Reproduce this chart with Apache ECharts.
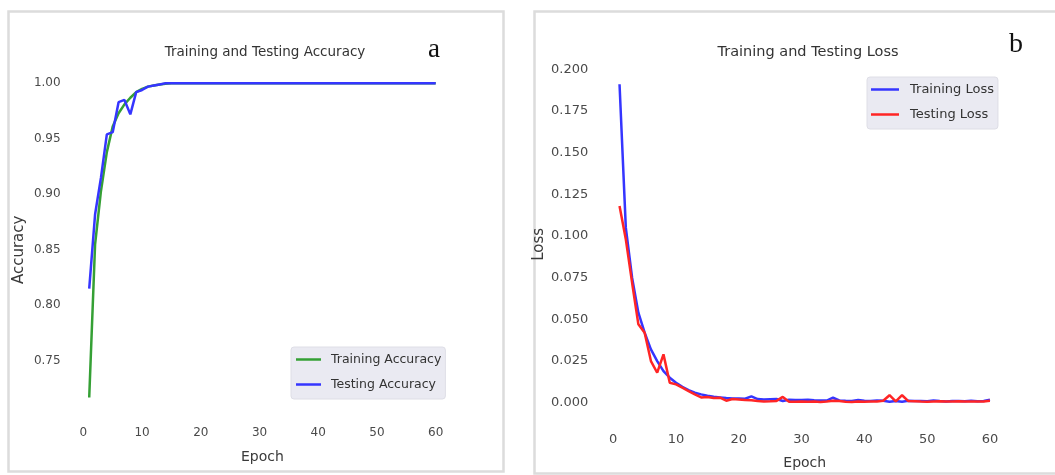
<!DOCTYPE html>
<html><head><meta charset="utf-8">
<script src="https://cdn.jsdelivr.net/npm/echarts@6/dist/echarts.min.js"></script>
<style>html,body{margin:0;padding:0;background:#fff}#c{width:1055px;height:475px}</style>
</head><body><div id="c"></div>
<script>
const epochs = [1,2,3,4,5,6,7,8,9,10,11,12,13,14,15,16,17,18,19,20,
  21,22,23,24,25,26,27,28,29,30,31,32,33,34,35,36,37,38,39,40,
  41,42,43,44,45,46,47,48,49,50,51,52,53,54,55,56,57,58,59,60];
const trainAcc = [0.717,0.855,0.903,0.938,0.961,0.973,0.981,0.987,0.992,0.995,
  0.997,0.998,0.999,0.9995,1.0,1.0,1.0,1.0,1.0,1.0,
  1.0,1.0,1.0,1.0,1.0,1.0,1.0,1.0,1.0,1.0,
  1.0,1.0,1.0,1.0,1.0,1.0,1.0,1.0,1.0,1.0,
  1.0,1.0,1.0,1.0,1.0,1.0,1.0,1.0,1.0,1.0,
  1.0,1.0,1.0,1.0,1.0,1.0,1.0,1.0,1.0,1.0];
const testAcc = [0.815,0.882,0.915,0.954,0.956,0.983,0.985,0.972,0.992,0.994,
  0.997,0.998,0.999,1.0,1.0,1.0,1.0,1.0,1.0,1.0,
  1.0,1.0,1.0,1.0,1.0,1.0,1.0,1.0,1.0,1.0,
  1.0,1.0,1.0,1.0,1.0,1.0,1.0,1.0,1.0,1.0,
  1.0,1.0,1.0,1.0,1.0,1.0,1.0,1.0,1.0,1.0,
  1.0,1.0,1.0,1.0,1.0,1.0,1.0,1.0,1.0,1.0];
const trainLoss = [0.191,0.105,0.075,0.054,0.042,0.032,0.025,0.019,0.015,0.012,
  0.0095,0.0075,0.006,0.005,0.0042,0.0036,0.0032,0.0028,0.0026,0.0025,
  0.0024,0.0038,0.0022,0.0020,0.0021,0.0022,0.0010,0.0018,0.0017,0.0016,
  0.0018,0.0015,0.0014,0.0013,0.0030,0.0014,0.0012,0.0011,0.0016,0.0012,
  0.0011,0.0013,0.0012,0.0006,0.0011,0.0006,0.0012,0.0010,0.0011,0.0009,
  0.0013,0.0010,0.0008,0.0011,0.0010,0.0009,0.0012,0.0009,0.0010,0.0018];
const testLoss = [0.118,0.098,0.072,0.047,0.042,0.025,0.018,0.029,0.012,0.011,
  0.009,0.007,0.005,0.0032,0.0034,0.0028,0.0030,0.0012,0.0022,0.0020,
  0.0017,0.0015,0.0010,0.0008,0.0009,0.0011,0.0035,0.0006,0.0006,0.0007,
  0.0006,0.0007,0.0005,0.0008,0.0012,0.0010,0.0006,0.0005,0.0007,0.0006,
  0.0008,0.0007,0.0012,0.0045,0.0008,0.0045,0.0010,0.0009,0.0007,0.0006,
  0.0008,0.0009,0.0007,0.0008,0.0009,0.0007,0.0008,0.0007,0.0008,0.0012];
const xTicks = [0,10,20,30,40,50,60];
const accTicks = [0.75,0.80,0.85,0.90,0.95,1.00];
const lossTicks = [0.000,0.025,0.050,0.075,0.100,0.125,0.150,0.175,0.200];

const FONT = 'DejaVu Sans';
const has = (arr, v) => arr.some(t => Math.abs(t - v) < 1e-7);
const pairs = ys => epochs.map((e, i) => [e, ys[i]]);

const chart = echarts.init(document.getElementById('c'), null, {renderer: 'canvas'});

function xAxisOf(gi, gap, fs) {
  return {
    type: 'value', gridIndex: gi, min: -2, max: 63, interval: 1,
    axisLine: {show: false}, axisTick: {show: false}, splitLine: {show: false},
    axisLabel: {interval: 0, margin: gi === 0 ? 11 : 14, color: '#4a4a4a', fontFamily: FONT, fontSize: fs,
      formatter: v => has(xTicks, v) ? String(Math.round(v)) : ''},
    name: 'Epoch', nameLocation: 'middle', nameGap: gap,
    nameTextStyle: {color: '#3a3a3a', fontFamily: FONT, fontSize: 14}
  };
}

const option = {
  animation: false,
  backgroundColor: '#fff',
  graphic: [
    {type: 'rect', shape: {x: 8.5, y: 11.5, width: 495, height: 460}, style: {fill: 'none', stroke: '#dcdcdc', lineWidth: 2.5}, silent: true},
    {type: 'rect', shape: {x: 534.5, y: 11.5, width: 540, height: 462}, style: {fill: 'none', stroke: '#dcdcdc', lineWidth: 2.5}, silent: true},
    {type: 'text', x: 434, y: 50, style: {text: 'a', font: '27px "Liberation Serif"', fill: '#111', align: 'center', verticalAlign: 'middle'}},
    {type: 'text', x: 1016, y: 45, style: {text: 'b', font: '28px "Liberation Serif"', fill: '#111', align: 'center', verticalAlign: 'middle'}}
  ],
  title: [
    {text: 'Training and Testing Accuracy', left: 265, top: 45, textAlign: 'center', padding: 0,
      textStyle: {fontFamily: FONT, fontSize: 13.5, fontWeight: 'normal', color: '#333'}},
    {text: 'Training and Testing Loss', left: 808, top: 45, textAlign: 'center', padding: 0,
      textStyle: {fontFamily: FONT, fontSize: 14.5, fontWeight: 'normal', color: '#333'}}
  ],
  legend: [
    {data: ['Training Accuracy', 'Testing Accuracy'], orient: 'vertical', left: 291, top: 347,
      backgroundColor: '#eaeaf2', borderColor: '#dedee6', borderWidth: 1, borderRadius: 3,
      padding: [6, 4, 8, 5], itemGap: 12, itemWidth: 25, itemHeight: 2.5, icon: 'rect',
      textStyle: {fontFamily: FONT, fontSize: 12.5, color: '#333', padding: [0, 0, 0, 5]}},
    {data: ['Training Loss', 'Testing Loss'], orient: 'vertical', left: 867, top: 77,
      backgroundColor: '#eaeaf2', borderColor: '#dedee6', borderWidth: 1, borderRadius: 3,
      padding: [6, 4, 8, 4], itemGap: 12, itemWidth: 28, itemHeight: 2.5, icon: 'rect',
      textStyle: {fontFamily: FONT, fontSize: 13, color: '#333', padding: [0, 0, 0, 6]}}
  ],
  grid: [
    {left: 71.6, top: 83.3, width: 381.7, height: 333, containLabel: false},
    {left: 600.7, top: 69.3, width: 408.1, height: 350.1, containLabel: false}
  ],
  xAxis: [xAxisOf(0, 34.5, 12), xAxisOf(1, 36.5, 13)],
  yAxis: [
    {type: 'value', gridIndex: 0, min: 0.70, max: 1.0, interval: 0.05,
      axisLine: {show: false}, axisTick: {show: false}, splitLine: {show: false},
      axisLabel: {margin: 11, color: '#4a4a4a', fontFamily: FONT, fontSize: 12,
        formatter: v => has(accTicks, v) ? v.toFixed(2) : ''},
      name: 'Accuracy', nameLocation: 'middle', nameRotate: 90, nameGap: 45,
      nameTextStyle: {color: '#3a3a3a', fontFamily: FONT, fontSize: 15}},
    {type: 'value', gridIndex: 1, min: -0.01, max: 0.2, interval: 0.005,
      axisLine: {show: false}, axisTick: {show: false}, splitLine: {show: false},
      axisLabel: {margin: 12.4, color: '#4a4a4a', fontFamily: FONT, fontSize: 13,
        formatter: v => has(lossTicks, v) ? v.toFixed(3) : ''},
      name: 'Loss', nameLocation: 'middle', nameRotate: 90, nameGap: 54,
      nameTextStyle: {color: '#3a3a3a', fontFamily: FONT, fontSize: 15}}
  ],
  series: [
    {name: 'Training Accuracy', type: 'line', xAxisIndex: 0, yAxisIndex: 0, data: pairs(trainAcc),
      showSymbol: false, symbol: 'none', color: '#35a035', lineStyle: {width: 2.5, color: '#35a035'}, clip: false},
    {name: 'Testing Accuracy', type: 'line', xAxisIndex: 0, yAxisIndex: 0, data: pairs(testAcc),
      showSymbol: false, symbol: 'none', color: '#3535ff', lineStyle: {width: 2.5, color: '#3535ff'}, clip: false},
    {name: 'Training Loss', type: 'line', xAxisIndex: 1, yAxisIndex: 1, data: pairs(trainLoss),
      showSymbol: false, symbol: 'none', color: '#3535ff', lineStyle: {width: 2.5, color: '#3535ff'}, clip: false},
    {name: 'Testing Loss', type: 'line', xAxisIndex: 1, yAxisIndex: 1, data: pairs(testLoss),
      showSymbol: false, symbol: 'none', color: '#ff2525', lineStyle: {width: 2.5, color: '#ff2525'}, clip: false}
  ]
};
chart.setOption(option);
</script></body></html>
